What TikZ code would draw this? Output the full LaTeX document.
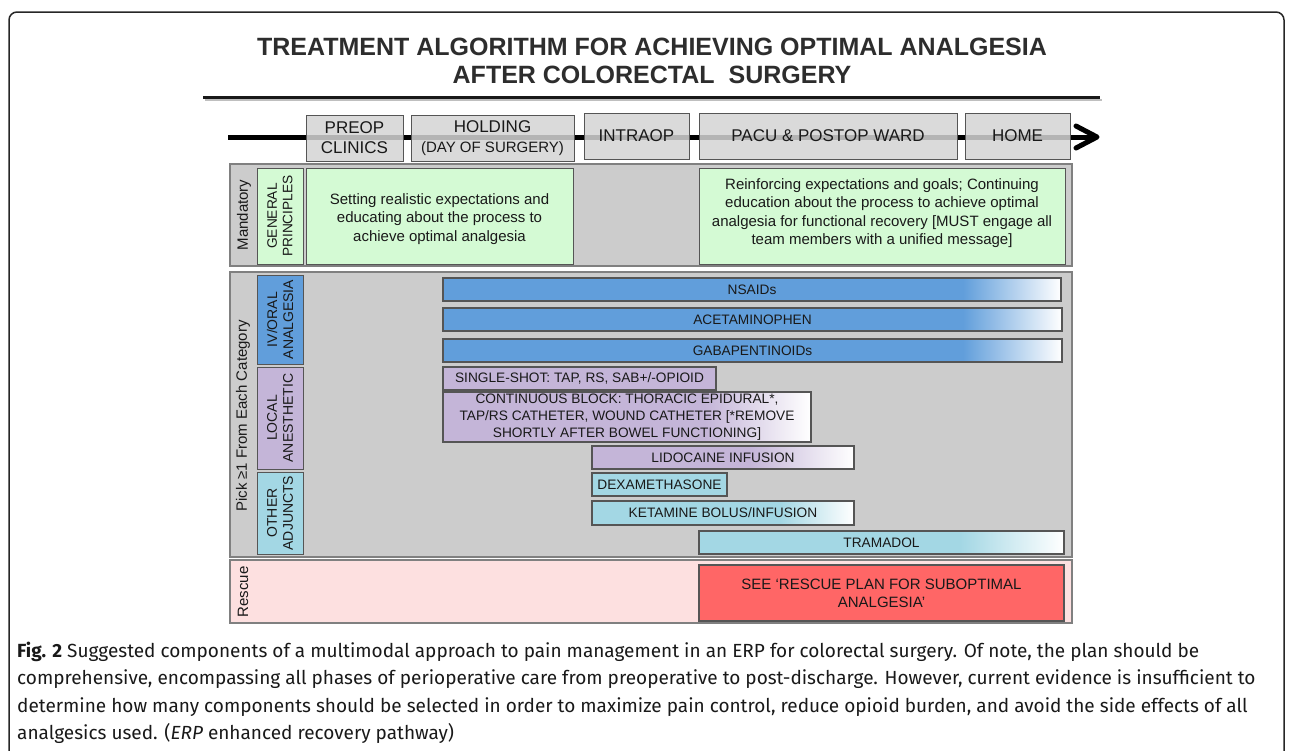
\documentclass[tikz,border=0pt]{standalone}
\usepackage{fontspec}
\setmainfont{Liberation Sans}
\newfontfamily\capfont{Fira Sans}
\usetikzlibrary{calc}
\definecolor{panelgray}{RGB}{204,204,204}
\definecolor{phasegray}{RGB}{212,212,212}
\definecolor{edgegray}{RGB}{85,85,85}
\definecolor{paneledge}{RGB}{128,128,128}
\definecolor{mintgreen}{RGB}{212,250,212}
\definecolor{barblue}{RGB}{97,158,219}
\definecolor{lilac}{RGB}{196,181,216}
\definecolor{aqua}{RGB}{163,215,228}
\definecolor{rosepink}{RGB}{253,224,224}
\definecolor{alertred}{RGB}{255,102,102}
\definecolor{titlegray}{RGB}{45,45,45}
\definecolor{textdark}{RGB}{25,25,25}
% name, x1, y1, x2, y2, style, text
\newcommand\rbox[7]{%
  \node[#6, inner sep=0pt, minimum width={(#4-#2)*1pt}, minimum height={(#5-#3)*1pt}]
    (#1) at ({(#2+#4)/2},{(#3+#5)/2}) {#7};}
% name, x1, y1, x2, y2, fade start, colour, text
\newcommand\drugbar[8]{%
  \fill[#7] (#2,#3) rectangle (#6,#5);
  \shade[left color=#7, right color=white] (#6,#3) rectangle (#4,#5);
  \rbox{#1}{#2}{#3}{#4}{#5}{barline}{#8}}
\begin{document}
\begin{tikzpicture}[x=1pt,y=-1pt,
  phase/.style={draw=edgegray, line width=1pt, fill=phasegray, fill opacity=0.85, text opacity=1,
     text=textdark, align=center, font=\fontsize{17}{20}\selectfont},
  panel/.style={draw=paneledge, line width=1.5pt, fill=panelgray},
  greenbox/.style={draw=edgegray, line width=1pt, fill=mintgreen},
  greentext/.style={text=textdark, align=center, inner sep=0pt, font=\fontsize{15}{18.3}\selectfont},
  catbox/.style={draw=edgegray, line width=1pt, text=textdark, align=center,
     font=\fontsize{14}{16}\selectfont},
  sidelabel/.style={rotate=90, text=textdark, font=\fontsize{15}{17}\selectfont},
  barline/.style={draw=edgegray, line width=1.2pt, text=textdark, align=center,
     font=\fontsize{13.7}{16.7}\selectfont},
  solidbar/.style={barline, fill=#1},
  alertbox/.style={draw=edgegray, line width=1.2pt, fill=alertred, text=textdark, align=center,
     font=\fontsize{15}{18}\selectfont}
]
\useasboundingbox (0,0) rectangle (1292,750);
% outer frame
\draw[rounded corners=8pt, line width=1.5pt, black!85] (9,800) -- (9,12) -- (1284,12) -- (1284,800);
% title
\node[font=\bfseries\fontsize{25}{28}\selectfont, text=titlegray, align=center] (title) at (652,61)
  {TREATMENT ALGORITHM FOR ACHIEVING OPTIMAL ANALGESIA\\AFTER COLORECTAL\ \ SURGERY};
\coordinate (ruleL) at (203,97);
\coordinate (ruleR) at (1100,97);
\draw[line width=2pt, black!25] ($(ruleL)+(2,3)$) -- ($(ruleR)+(2,3)$);
\draw[line width=3pt, black!90] (ruleL) -- (ruleR);
% timeline
\coordinate (tlS) at (228,137);
\coordinate (tlE) at (1097,137);
\draw[line width=5pt] (tlS) -- (tlE);
\draw[line width=5pt, line cap=round, line join=round] ($(tlE)+(-21,-11)$) -- (tlE) -- ($(tlE)+(-21,11)$);
\rbox{preop}{306}{113}{403}{159}{phase, text depth=0pt, yshift=-2pt}{PREOP\\CLINICS}
\rbox{holding}{411}{113}{574}{159}{phase, yshift=-2pt}{HOLDING\\{\fontsize{15}{17}\selectfont(DAY OF SURGERY)}}
\rbox{intraop}{584}{113}{689}{159}{phase}{INTRAOP}
\rbox{pacu}{699}{113}{957}{159}{phase}{PACU \& POSTOP WARD}
\rbox{home}{965}{113}{1070}{159}{phase}{HOME}
% mandatory panel
\rbox{mand}{230}{164}{1072}{266}{panel}{}
\node[sidelabel] (mandlbl) at (244,215) {Mandatory};
\node[catbox, fill=mintgreen, rotate=90, inner sep=0pt, minimum width=96pt, minimum height=46pt,
  font=\fontsize{13.7}{15.5}\selectfont] (gp) at (280,216) {GENERAL\\PRINCIPLES};
\rbox{gpre}{306}{168}{573}{264}{greenbox}{}
\node[greentext] (gpretext) at ($(gpre.center)+(0,3)$) {Setting realistic expectations and\\educating about the process to\\achieve optimal analgesia};
\rbox{gpost}{699}{168}{1065}{264}{greenbox}{}
\node[greentext] (gposttext) at ($(gpost.center)+(0,-3)$) {Reinforcing expectations and goals; Continuing\\education about the process to achieve optimal\\analgesia for functional recovery [MUST engage all\\team members with a unified message]};
% pick panel
\rbox{pick}{230}{272}{1072}{557}{panel}{}
\node[sidelabel] (picklbl) at (243,416) {Pick ≥1 From Each Category};
\node[catbox, fill=barblue, rotate=90, inner sep=0pt, minimum width=89pt, minimum height=46pt] (iv) at (280,319.5) {IV/ORAL\\ANALGESIA};
\node[catbox, fill=lilac, rotate=90, inner sep=0pt, minimum width=102pt, minimum height=46pt] (local) at (280,418) {LOCAL\\ANESTHETIC};
\node[catbox, fill=aqua, rotate=90, inner sep=0pt, minimum width=82pt, minimum height=46pt] (other) at (280,513) {OTHER\\ADJUNCTS};
\drugbar{nsaid}{443}{278}{1061}{301}{963}{barblue}{NSAIDs}
\drugbar{acet}{443}{308}{1062}{331}{963}{barblue}{ACETAMINOPHEN}
\drugbar{gaba}{443}{339}{1062}{362}{963}{barblue}{GABAPENTINOIDs}
\rbox{single}{443}{367}{716}{390}{solidbar=lilac}{SINGLE-SHOT: TAP, RS, SAB+/-OPIOID}
\drugbar{cont}{443}{392}{811}{442}{705}{lilac}{CONTINUOUS BLOCK: THORACIC EPIDURAL*,\\TAP/RS CATHETER, WOUND CATHETER [*REMOVE\\SHORTLY AFTER BOWEL FUNCTIONING]}
\drugbar{lido}{592}{446}{854}{469}{750}{lilac}{LIDOCAINE INFUSION}
\rbox{dexa}{592}{473}{727}{496}{solidbar=aqua}{DEXAMETHASONE}
\drugbar{keta}{592}{501}{854}{525}{780}{aqua}{KETAMINE BOLUS/INFUSION}
\drugbar{tram}{699}{531}{1064}{554}{960}{aqua}{TRAMADOL}
% rescue panel
\rbox{rescue}{230}{560}{1072}{623}{panel, fill=rosepink}{}
\node[sidelabel] (rescuelbl) at (243,592) {Rescue};
\rbox{plan}{699}{565}{1064}{621}{alertbox}{SEE ‘RESCUE PLAN FOR SUBOPTIMAL\\ANALGESIA’}
% caption
\node[anchor=north west, inner sep=0pt, align=left, text=textdark,
  font=\capfont\fontsize{19}{27.3}\selectfont] (caption) at (17,642)
  {{\bfseries Fig. 2} Suggested components of a multimodal approach to pain management in an ERP for colorectal surgery. Of note, the plan should be\\
   comprehensive, encompassing all phases of perioperative care from preoperative to post-discharge. However, current evidence is insufficient to\\
   determine how many components should be selected in order to maximize pain control, reduce opioid burden, and avoid the side effects of all\\
   analgesics used. ({\itshape ERP} enhanced recovery pathway)};
\end{tikzpicture}
\end{document}
